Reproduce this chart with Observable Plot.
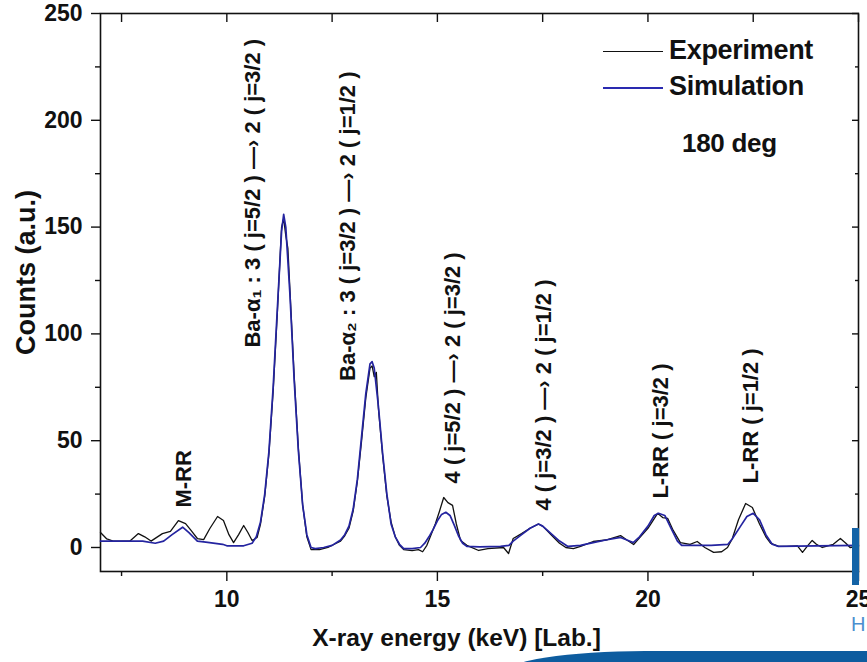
<!DOCTYPE html>
<html>
<head>
<meta charset="utf-8">
<script src="https://cdn.jsdelivr.net/npm/d3@7"></script>
<script src="https://cdn.jsdelivr.net/npm/@observablehq/plot@0.6"></script>
<style>
  html, body { margin: 0; padding: 0; background: #fff; }
  #wrap { position: relative; width: 867px; height: 662px; overflow: hidden; font-family: "Liberation Sans", Arial, sans-serif; }
  #chart svg { display: block; }
  .leg { position: absolute; left: 603px; font-weight: bold; font-size: 27px; color: #111; letter-spacing: -0.3px; white-space: nowrap; }
  .leg .sw { display: inline-block; width: 60px; height: 0; vertical-align: middle; margin-right: 6px; }
  #deg { position: absolute; left: 682px; top: 128px; font-weight: bold; font-size: 26px; color: #111; letter-spacing: -0.3px; }
  #bar { position: absolute; left: 852px; top: 528px; width: 7px; height: 57px; background: #1463a6; }
  #hch { position: absolute; left: 851px; top: 614px; font-size: 20px; line-height: 20px; color: #4c8fcf; }
  #swoosh { position: absolute; left: 505px; top: 651px; width: 420px; height: 60px; background: #0d5c9f; border-top-left-radius: 140px 22px; }
</style>
</head>
<body>
<div id="wrap">
  <div id="chart"></div>
  <div class="leg" style="top:35px"><span class="sw" style="border-top:1.6px solid #111"></span>Experiment</div>
  <div class="leg" style="top:71px"><span class="sw" style="border-top:2px solid #2a2ab0"></span>Simulation</div>
  <div id="deg">180 deg</div>
  <div id="bar"></div>
  <div id="hch">H</div>
  <div id="swoosh"></div>
</div>
<script>
// ---- data ----
const expEnergy = [7.0, 7.15, 7.3, 7.7, 7.9, 8.05, 8.2, 8.47, 8.66, 8.85, 9.02, 9.15, 9.3, 9.45, 9.6, 9.78, 9.92, 10.05, 10.16, 10.28, 10.4, 10.5, 10.6, 10.72, 10.8, 10.9, 11.0, 11.1, 11.2, 11.3, 11.35, 11.4, 11.45, 11.5, 11.6, 11.7, 11.8, 11.9, 12.0, 12.2, 12.4, 12.6, 12.7, 12.8, 12.9, 13.0, 13.1, 13.2, 13.3, 13.4, 13.45, 13.5, 13.55, 13.6, 13.7, 13.8, 13.9, 14.0, 14.1, 14.2, 14.4, 14.55, 14.65, 14.75, 14.85, 14.95, 15.05, 15.15, 15.25, 15.36, 15.45, 15.55, 15.7, 15.98, 16.2, 16.57, 16.69, 16.8, 17.0, 17.2, 17.4, 17.5, 17.7, 17.9, 18.05, 18.23, 18.4, 18.7, 19.0, 19.35, 19.5, 19.66, 19.8, 20.0, 20.1, 20.23, 20.35, 20.47, 20.6, 20.77, 21.0, 21.17, 21.35, 21.56, 21.75, 21.89, 22.0, 22.15, 22.32, 22.48, 22.65, 22.8, 22.91, 23.1, 23.3, 23.55, 23.67, 23.8, 23.9, 24.0, 24.14, 24.4, 24.57, 24.7, 24.8, 25.0];
const expCounts = [7, 4, 3, 3, 6.5, 5, 3, 6.5, 7.5, 12.6, 11.2, 8, 4.2, 3.7, 9, 14.5, 12.6, 6, 2.3, 6, 10.3, 7, 3.3, 4.7, 11, 24, 44, 73, 110, 150, 154, 146, 140, 120, 80, 46, 20, 5, -1, -1, 0, 2, 3, 5.5, 9, 17, 31, 50, 70, 84, 85, 80, 82, 65, 43, 24, 12, 5, 1, -1, -1.5, -1, -2, 1, 6, 11, 17, 23.4, 21, 19.7, 11, 3.3, 1, -1.4, -0.5, 0, -2.8, 4.2, 6.5, 9, 11, 10, 6, 2, 0, -0.5, 0.5, 2.8, 3.5, 5.6, 3.5, 1.4, 4.5, 9, 12, 16, 14, 13.6, 8, 2.3, 1.5, 2.8, 0, -2.3, -2, 0, 4, 13, 20.6, 18.7, 11, 5, 2, 0.5, 0.5, 0.8, -2.3, 1, 3.3, 1.5, 0, 1.5, 4.2, 2, 0, 0.5];

const simEnergy = [7.0, 8.0, 8.3, 8.5, 8.7, 8.95, 9.1, 9.3, 9.5, 9.9, 10.0, 10.4, 10.6, 10.7, 10.8, 10.9, 11.0, 11.1, 11.2, 11.3, 11.35, 11.4, 11.5, 11.6, 11.7, 11.8, 11.9, 12.0, 12.1, 12.3, 12.5, 12.7, 12.8, 12.9, 13.0, 13.1, 13.2, 13.3, 13.4, 13.45, 13.5, 13.6, 13.7, 13.8, 13.9, 14.0, 14.1, 14.2, 14.4, 14.6, 14.7, 14.8, 14.9, 15.0, 15.1, 15.2, 15.3, 15.4, 15.5, 15.6, 15.7, 16.0, 16.5, 16.7, 16.8, 17.0, 17.2, 17.4, 17.5, 17.7, 17.9, 18.1, 18.4, 18.7, 19.0, 19.35, 19.5, 19.65, 19.8, 20.0, 20.15, 20.25, 20.4, 20.55, 20.7, 20.8, 21.5, 21.9, 22.0, 22.2, 22.35, 22.5, 22.65, 22.8, 22.95, 23.1, 24.0, 25.0];
const simCounts = [3, 3, 2, 3, 6, 9.5, 7, 3, 2.5, 1.5, 0.8, 0.8, 2, 5, 12, 25, 45, 75, 112, 148, 156, 150, 118, 78, 45, 20, 6, 0, -0.5, 0, 1, 3.5, 6, 10, 18, 32, 52, 72, 86, 87, 84, 66, 44, 25, 11, 5, 1.5, -0.5, -0.5, 0, 2, 5, 8.5, 12.5, 15.5, 16.5, 15, 10.5, 5.5, 2, 0.5, 0.3, 0.5, 1, 3, 6, 9, 11, 10, 6.5, 3, 0.5, 1, 2.3, 3.5, 4.7, 3.5, 2.3, 5, 10, 15, 16, 15, 9, 3, 1, 1, 1.5, 4, 10, 14.5, 16, 13, 6, 1.5, 0.5, 0.8, 1];

const peakLabels = ["M-RR", "Ba-α₁ : 3 ( j=5/2 ) —› 2 ( j=3/2 )", "Ba-α₂ : 3 ( j=3/2 ) —› 2 ( j=1/2 )", "4 ( j=5/2 ) —› 2 ( j=3/2 )", "4 ( j=3/2 ) —› 2 ( j=1/2 )", "L-RR ( j=3/2 )", "L-RR ( j=1/2 )"];
const peakLabelX = [8.97, 10.61, 12.87, 15.38, 17.52, 20.30, 22.44];
const peakLabelY = [18.7, 93.6, 78, 30, 17.3, 22.9, 30];

const xTicks = [10, 15, 20, 25];
const xMinorTicks = [7.5, 12.5, 17.5, 22.5];
const yTicks = [0, 50, 100, 150, 200, 250];
const yMinorTicks = [25, 75, 125, 175, 225];

const xTitle = "X-ray energy (keV) [Lab.]";
const yTitle = "Counts (a.u.)";

// ---- tables ----
const expData = expEnergy.map((e, i) => ({energy: e, counts: expCounts[i]}));
const simData = simEnergy.map((e, i) => ({energy: e, counts: simCounts[i]}));
const labelData = peakLabels.map((t, i) => ({text: t, x: peakLabelX[i], y: peakLabelY[i]}));

const FONT = "Liberation Sans, Arial, sans-serif";
const blank = () => "";

const chart = Plot.plot({
  width: 867,
  height: 662,
  marginLeft: 100,
  marginRight: 9,
  marginTop: 13,
  marginBottom: 91,
  style: {fontFamily: FONT, color: "#111", background: "white"},
  x: {domain: [7, 25], label: null},
  y: {domain: [-11.24, 250], label: null},
  marks: [
    Plot.axisY(yTicks, {anchor: "left", tickSize: 9, tickPadding: 9, fontSize: 23, fontWeight: "bold", label: null, strokeWidth: 1.4}),
    Plot.axisY(yMinorTicks, {anchor: "left", tickSize: 5, tickFormat: blank, label: null, strokeWidth: 1.4}),
    Plot.axisY(yTicks, {anchor: "right", tickSize: -7, tickFormat: blank, label: null, strokeWidth: 1.4}),
    Plot.axisY(yMinorTicks, {anchor: "right", tickSize: -4, tickFormat: blank, label: null, strokeWidth: 1.4}),
    Plot.axisX(xTicks, {anchor: "bottom", tickSize: 10, tickPadding: 9, fontSize: 23, fontWeight: "bold", label: null, strokeWidth: 1.4}),
    Plot.axisX(xMinorTicks, {anchor: "bottom", tickSize: 5, tickFormat: blank, label: null, strokeWidth: 1.4}),
    Plot.axisX(xTicks, {anchor: "top", tickSize: -8, tickFormat: blank, label: null, strokeWidth: 1.4}),
    Plot.axisX(xMinorTicks, {anchor: "top", tickSize: -8, tickFormat: blank, label: null, strokeWidth: 1.4}),
    Plot.frame({stroke: "#111", strokeWidth: 1.6}),
    Plot.line(expData, {x: "energy", y: "counts", stroke: "#111", strokeWidth: 1.3}),
    Plot.line(simData, {x: "energy", y: "counts", stroke: "#2424a0", strokeWidth: 1.7}),
    Plot.text(labelData, {x: "x", y: "y", text: "text", rotate: -90, textAnchor: "start", lineAnchor: "middle", fontSize: 22, fontWeight: "bold", fill: "#111"}),
    Plot.text([yTitle], {text: d => d, frameAnchor: "left", textAnchor: "middle", lineAnchor: "middle", dx: -74, dy: -20, rotate: -90, fontSize: 27, fontWeight: "bold", fill: "#111"}),
    Plot.text([xTitle], {text: d => d, frameAnchor: "bottom", textAnchor: "middle", lineAnchor: "middle", dx: -23, dy: 67, fontSize: 24.5, fontWeight: "bold", fill: "#111", letterSpacing: "-0.5px"})
  ]
});
document.getElementById("chart").appendChild(chart);
</script>
</body>
</html>
